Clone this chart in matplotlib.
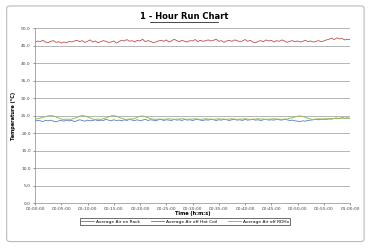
import matplotlib
matplotlib.use("Agg")
import matplotlib.pyplot as plt
import numpy as np
from matplotlib.patches import FancyBboxPatch

# readings every 30 s over one hour (minutes)
minutes = np.arange(0, 60.5, 0.5)

rack = [23.4,23.6,23.5,23.3,23.6,23.5,23.7,23.4,23.2,23.5,
        23.6,23.4,23.7,23.5,23.6,23.3,23.5,23.8,23.6,23.4,
        23.7,23.5,23.6,23.8,23.5,23.7,23.6,23.9,23.7,23.5,
        23.8,23.6,23.7,23.5,23.8,23.6,23.9,23.7,23.6,23.8,
        23.5,23.7,23.9,23.6,23.8,23.7,23.5,23.8,23.9,23.6,
        23.8,23.7,23.6,23.9,23.7,23.8,23.6,23.9,23.7,23.8,
        23.6,23.8,23.9,23.7,23.6,23.8,23.7,23.9,23.8,23.6,
        23.8,23.7,23.9,23.8,23.6,23.8,23.9,23.7,23.8,23.6,
        23.9,23.7,23.8,23.9,23.7,23.8,23.6,23.8,23.9,23.7,
        23.8,23.7,23.9,23.8,23.7,23.9,23.8,23.6,23.7,23.5,
        23.4,23.3,23.5,23.4,23.6,23.7,23.8,23.9,23.8,23.9,
        24.0,23.9,24.1,24.0,24.2,24.3,24.1,24.4,24.2,24.3,24.2]

hot_coil = [45.9,46.3,46.1,46.5,46.0,45.8,46.2,46.4,45.9,46.1,
            45.7,46.0,45.8,46.2,46.0,46.3,46.5,46.1,46.4,45.9,
            46.2,46.6,46.0,46.3,45.8,46.1,46.4,46.2,45.9,46.0,
            46.3,45.7,46.1,46.5,46.3,46.7,46.2,46.4,46.0,46.5,
            46.3,46.8,46.1,46.4,46.2,45.8,46.0,46.3,46.5,46.2,
            46.6,46.0,46.3,46.8,46.4,46.1,46.5,46.2,46.0,46.4,
            46.3,46.7,46.1,46.5,46.2,46.4,46.6,46.3,46.5,46.8,
            46.2,46.4,45.9,46.3,46.5,46.2,46.6,46.4,46.1,46.3,
            46.7,46.2,46.5,46.0,45.8,46.2,46.4,46.1,46.6,46.3,
            46.5,46.0,46.4,46.2,46.6,46.3,45.9,46.2,46.4,46.1,
            46.3,46.0,46.2,46.5,46.1,46.3,46.0,46.2,46.4,46.1,
            46.3,46.6,46.8,47.1,46.7,47.2,46.9,47.0,46.6,46.8,46.7]

rdhx = [24.0,24.1,24.3,24.5,24.7,24.9,25.0,24.9,24.6,24.3,
        24.0,23.9,24.0,23.9,24.0,24.2,24.5,24.8,25.0,24.9,
        24.6,24.3,24.0,23.9,24.0,23.9,24.1,24.3,24.6,24.9,
        25.0,24.8,24.5,24.2,24.0,23.9,24.0,24.0,24.2,24.5,
        24.8,24.9,24.7,24.4,24.1,24.0,23.9,24.0,24.0,23.9,
        24.0,24.1,24.0,23.9,24.0,24.0,24.1,24.0,23.9,24.0,
        24.0,24.1,24.0,23.9,24.0,24.1,24.0,24.0,23.9,24.0,
        24.1,24.0,24.0,23.9,24.0,24.1,24.0,23.9,24.0,24.0,
        24.1,24.0,23.9,24.0,24.0,24.1,24.0,24.0,23.9,24.0,
        24.0,24.1,24.0,24.0,23.9,24.0,24.0,24.2,24.4,24.6,
        24.8,24.9,24.7,24.5,24.2,24.0,23.9,24.0,24.1,24.0,
        24.0,24.1,24.0,24.1,24.2,24.1,24.2,24.3,24.2,24.3,24.2]

tick_minutes = list(range(0, 61, 5))
tick_labels = ["%02d:%02d:00" % (m // 60, m % 60) for m in tick_minutes]

fig = plt.figure(figsize=(3.7, 2.48), dpi=100)
ax = fig.add_axes([0.0946, 0.181, 0.8514, 0.706])

ax.plot(minutes, rack, color='#4F81BD', lw=0.6, label='Average Air on Rack')
ax.plot(minutes, hot_coil, color='#C0504D', lw=0.6, label='Average Air off Hot Coil')
ax.plot(minutes, rdhx, color='#9BBB59', lw=0.7, label='Average Air off RDHx')

ax.set_xlim(0, 60)
ax.set_ylim(0, 50)
ax.set_yticks(np.arange(0, 50.1, 5))
ax.set_yticklabels(["%.1f" % v for v in np.arange(0, 50.1, 5)])
ax.set_xticks(tick_minutes)
ax.set_xticklabels(tick_labels)
ax.tick_params(labelsize=3.2, length=1.5, width=0.4, pad=1.5, colors='#444444')
ax.grid(axis='y', color='#999999', lw=0.5)
ax.set_axisbelow(True)
for s in ['top', 'right']:
    ax.spines[s].set_visible(False)
for s in ['left', 'bottom']:
    ax.spines[s].set_linewidth(0.5)
    ax.spines[s].set_color('#888888')

ax.set_xlabel('Time (h:m:s)', fontsize=3.6, fontweight='bold')
ax.xaxis.set_label_coords(0.5, -0.045)
ax.set_ylabel('Temperature (\u00b0C)', fontsize=3.6, fontweight='bold', labelpad=4)
fig.text(0.497, 0.935, '1 - Hour Run Chart', fontsize=6, fontweight='bold',
         ha='center', va='center')
# underline under the title
fig.add_artist(plt.Line2D([0.405, 0.59], [0.912, 0.912], color='black', lw=0.5))

leg = fig.legend(loc='center', bbox_to_anchor=(0.5, 0.107), ncol=3, fontsize=3.2,
                 frameon=True, fancybox=False, edgecolor='black', handlelength=3,
                 columnspacing=2.5, borderpad=0.3, handletextpad=0.3)
leg.get_frame().set_linewidth(0.5)

fig.add_artist(FancyBboxPatch((0.018, 0.026), 0.966, 0.95, boxstyle='round,pad=0,rounding_size=0.01',
                              transform=fig.transFigure, fill=False, edgecolor='#bbbbbb', lw=0.8))

plt.savefig('out.png', dpi=100)
